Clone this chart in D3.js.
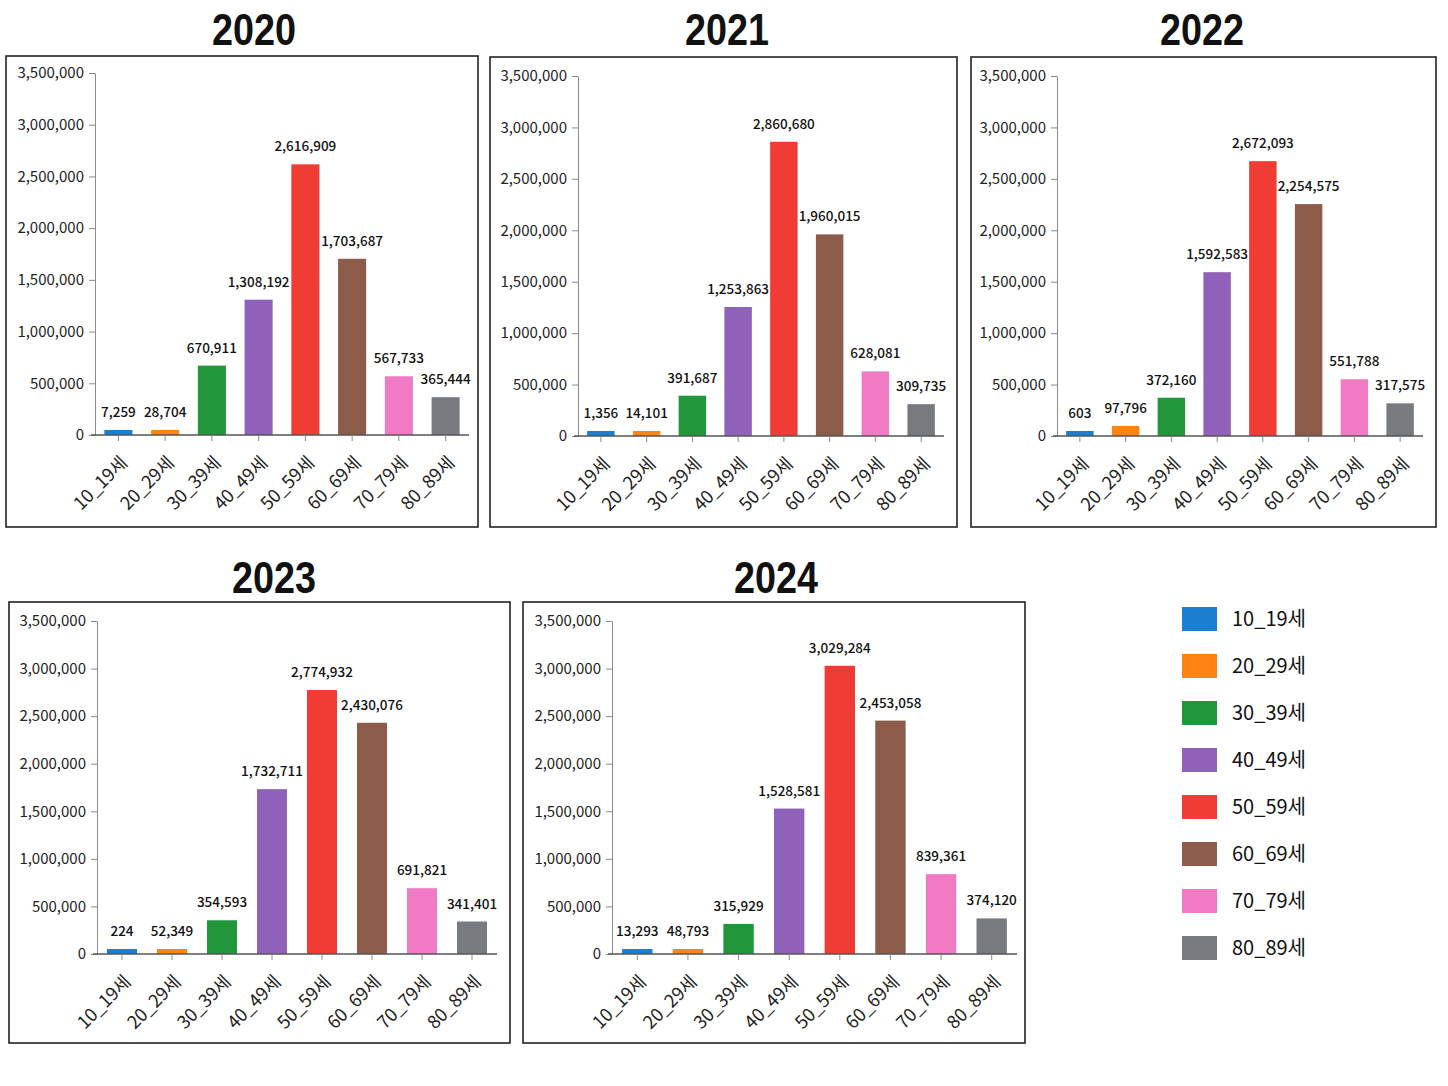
<!DOCTYPE html>
<html>
<head>
<meta charset="utf-8">
<script src="https://cdn.jsdelivr.net/npm/d3@7"></script>
<style>
  body { margin: 0; background: #fff; }
  svg { display: block; }
  .tick text { font-family: "Noto Sans CJK KR", "Noto Sans", sans-serif; }
</style>
</head>
<body>
<svg id="chart" width="1448" height="1086"></svg>
<script>
// ---- data ----
var ageGroups = ["10_19세", "20_29세", "30_39세", "40_49세",
                 "50_59세", "60_69세", "70_79세", "80_89세"];
var years = ["2020", "2021", "2022", "2023", "2024"];

var values2020 = [7259, 28704, 670911, 1308192, 2616909, 1703687, 567733, 365444];
var values2021 = [1356, 14101, 391687, 1253863, 2860680, 1960015, 628081, 309735];
var values2022 = [603, 97796, 372160, 1592583, 2672093, 2254575, 551788, 317575];
var values2023 = [224, 52349, 354593, 1732711, 2774932, 2430076, 691821, 341401];
var values2024 = [13293, 48793, 315929, 1528581, 3029284, 2453058, 839361, 374120];

var yTicks = [0, 500000, 1000000, 1500000, 2000000, 2500000, 3000000, 3500000];
var barColors = ["#1a7fd0", "#ff8412", "#22963a", "#9061b8",
                 "#f03c34", "#8c5b4a", "#f07ac4", "#777b7f"];

// ---- layout (page pixels) ----
var panels = [
  {year: "2020", values: values2020, titleX: 254, titleY: 45,
   frame: [6, 56, 472, 471], left: 95, right: 469, top: 73, bottom: 435},
  {year: "2021", values: values2021, titleX: 727, titleY: 45,
   frame: [490, 57, 467, 470], left: 578, right: 944, top: 76, bottom: 436},
  {year: "2022", values: values2022, titleX: 1202, titleY: 45,
   frame: [971, 57, 465, 470], left: 1057, right: 1423, top: 76, bottom: 436},
  {year: "2023", values: values2023, titleX: 274, titleY: 593,
   frame: [9, 602, 501, 441], left: 97, right: 497, top: 621, bottom: 954},
  {year: "2024", values: values2024, titleX: 776, titleY: 593,
   frame: [523, 602, 502, 441], left: 612, right: 1017, top: 621, bottom: 954}
];

var svg = d3.select("#chart");
var fmt = d3.format(",");
var color = d3.scaleOrdinal().domain(ageGroups).range(barColors);

/**
* drawPanel
* [one year's bar chart inside its framed box]
**/
function drawPanel(svg, p){
  var g = svg.append("g");

  g.append("rect")
    .attr("x", p.frame[0]).attr("y", p.frame[1])
    .attr("width", p.frame[2]).attr("height", p.frame[3])
    .attr("fill", "none")
    .attr("stroke", "#222")
    .attr("stroke-width", 1.6);

  g.append("text")
    .attr("x", p.titleX).attr("y", p.titleY)
    .attr("text-anchor", "middle")
    .attr("font-family", "'Liberation Sans', Arial, sans-serif")
    .attr("font-weight", "bold")
    .attr("font-size", 44)
    .attr("textLength", 84)
    .attr("lengthAdjust", "spacingAndGlyphs")
    .attr("fill", "#111")
    .text(p.year);

  var x = d3.scaleBand()
    .domain(ageGroups)
    .range([p.left, p.right])
    .paddingInner(0.4)
    .paddingOuter(0.2);

  var y = d3.scaleLinear()
    .domain([0, 3500000])
    .range([p.bottom, p.top]);

  // y axis
  var yAxis = d3.axisLeft(y)
    .tickValues(yTicks)
    .tickFormat(fmt)
    .tickSize(6)
    .tickPadding(5)
    .tickSizeOuter(0);

  var ya = g.append("g")
    .attr("transform", "translate(" + p.left + ",0)")
    .call(yAxis);
  ya.selectAll("path, line").attr("stroke", "#8a8a8a");
  ya.selectAll("text").attr("font-size", 15).attr("fill", "#222");

  // bars (small values get a thin visible sliver, as in the original)
  g.selectAll(".bar")
    .data(p.values)
    .enter()
    .append("rect")
    .attr("class", "bar")
    .attr("x", function(d, i){ return x(ageGroups[i]); })
    .attr("width", x.bandwidth())
    .attr("y", function(d){ return Math.min(y(d), p.bottom - 5); })
    .attr("height", function(d){ return Math.max(p.bottom - y(d), 5); })
    .attr("fill", function(d, i){ return color(ageGroups[i]); });

  // value labels
  g.selectAll(".val")
    .data(p.values)
    .enter()
    .append("text")
    .attr("class", "val")
    .attr("x", function(d, i){ return x(ageGroups[i]) + x.bandwidth()/2; })
    .attr("y", function(d){ return Math.min(y(d), p.bottom - 5) - 13; })
    .attr("text-anchor", "middle")
    .attr("font-family", "'Noto Sans CJK KR', 'Noto Sans', sans-serif")
    .attr("font-weight", 500)
    .attr("font-size", 13.5)
    .attr("fill", "#111")
    .text(function(d){ return fmt(d); });

  // x axis
  var xAxis = d3.axisBottom(x)
    .tickSize(6)
    .tickSizeOuter(0);

  var xa = g.append("g")
    .attr("transform", "translate(0," + p.bottom + ")")
    .call(xAxis);
  xa.select(".domain")
    .attr("d", "M" + (p.left - 4) + ",0H" + p.right)
    .attr("stroke", "#555")
    .attr("stroke-width", 1.5);
  xa.selectAll("line").attr("stroke", "#8a8a8a");
  xa.selectAll("text")
    .attr("font-size", 18)
    .attr("fill", "#222")
    .attr("text-anchor", "end")
    .attr("dy", null)
    .attr("y", 0)
    .attr("transform", "translate(10,29) rotate(-45)");
}

panels.forEach(function(p){ drawPanel(svg, p); });

// legend
var legend = svg.append("g").attr("transform", "translate(1182,607)");
var items = legend.selectAll(".item")
  .data(ageGroups)
  .enter()
  .append("g")
  .attr("class", "item")
  .attr("transform", function(d, i){ return "translate(0," + (i * 47) + ")"; });

items.append("rect")
  .attr("width", 35).attr("height", 24)
  .attr("fill", function(d){ return color(d); });

items.append("text")
  .attr("x", 50).attr("y", 12)
  .attr("dy", "0.36em")
  .attr("font-family", "'Noto Sans CJK KR', 'Noto Sans', sans-serif")
  .attr("font-size", 20)
  .attr("fill", "#111")
  .text(function(d){ return d; });
</script>
</body>
</html>
